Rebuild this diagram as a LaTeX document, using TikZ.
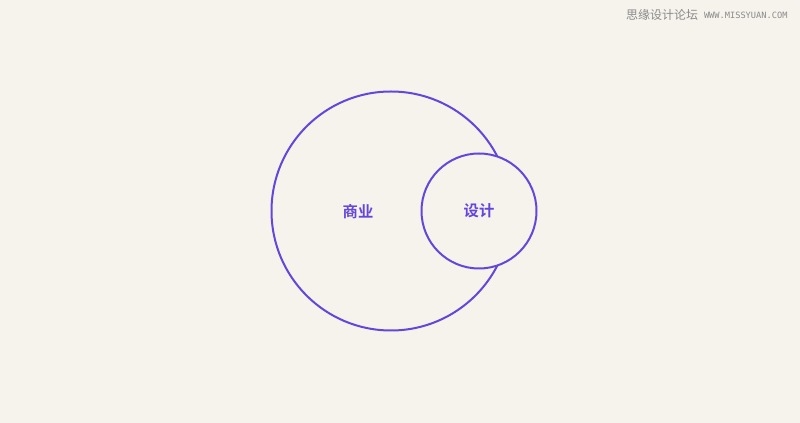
\documentclass[tikz,border=0pt]{standalone}
\usepackage{fontspec}
\usepackage{xcolor}
\newfontfamily\cjk{Noto Sans CJK SC}[BoldFont={Noto Sans CJK SC Bold}]
\newfontfamily\urlfont{DejaVu Sans Mono}
\usetikzlibrary{positioning}
\definecolor{bgcol}{HTML}{F6F3EC}
\definecolor{vio}{HTML}{6446DA}
\definecolor{mark}{HTML}{8A8A8A}

\begin{document}
\begin{tikzpicture}[x=0.75pt,y=-0.75pt,line width=1.5pt,
  ring/.style={circle,draw=vio,inner sep=0pt},
  lbl/.style={text=vio,font=\cjk\bfseries\fontsize{11.5}{13}\selectfont}]
  \fill[bgcol] (0,0) rectangle (800,423);
  \useasboundingbox (0,0) rectangle (800,423);
  \node[ring,minimum size=239*0.75pt]		(biz)	at (391,211)	{};
  \node[ring,fill=bgcol,minimum size=115*0.75pt]	(des)	at (479,211)	{};
  \node[lbl]	(bizlbl)	at (358,212)	{商业};
  \node[lbl]	(deslbl)	at (des)	{设计};
  \node[text=mark,font=\cjk\fontsize{9}{10}\selectfont,inner sep=0pt]	(wm)	at (662,15)	{思缘设计论坛};
  \node[text=mark,font=\urlfont\fontsize{6.5}{7}\selectfont,inner sep=0pt]	(url) [right=3pt of wm]	{WWW.MISSYUAN.COM};
\end{tikzpicture}
\end{document}
